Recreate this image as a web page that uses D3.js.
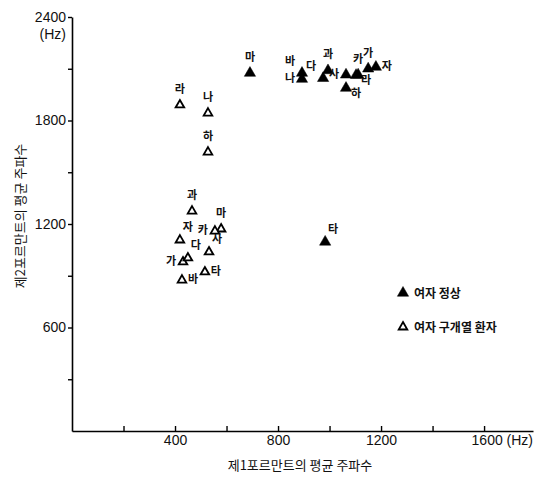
<!DOCTYPE html>
<html>
<head>
<meta charset="utf-8">
<script src="https://cdn.jsdelivr.net/npm/d3@7"></script>
<style>
  body { margin: 0; background: #fff; }
  svg { display: block; }
  .tick text { font-family: "Liberation Sans", "DejaVu Sans", sans-serif; }
</style>
</head>
<body>
<svg id="chart" width="551" height="477"></svg>
<script>
// normal women (filled triangles)
var normalLabels = ["마", "바", "나", "다", "과", "사", "라", "카", "하", "가", "자", "타"];
var normalF1 = [691, 893, 893, 975, 994, 1064, 1103, 1111, 1064, 1150, 1180, 983];
var normalF2 = [2075, 2075, 2040, 2045, 2090, 2065, 2063, 2065, 1988, 2100, 2110, 1096];
var normalLabelPos = ["t", "tl", "l", "tl", "t", "l", "br", "t", "br", "t", "r", "tr"];

// women with cleft palate (open triangles)
var cleftLabels = ["라", "나", "하", "과", "마", "카", "자", "가", "다", "사", "바", "타"];
var cleftF1 = [419, 528, 528, 466, 579, 555, 419, 431, 450, 532, 427, 516];
var cleftF2 = [1890, 1843, 1617, 1275, 1171, 1159, 1107, 980, 1003, 1038, 875, 922];
var cleftLabelPos = ["t", "t", "t", "t", "t", "l", "tr", "l", "tr", "tr", "r", "r"];

var xTicks = [200, 400, 600, 800, 1000, 1200, 1400, 1600];
var xTickLabels = { 400: "400", 800: "800", 1200: "1200", 1600: "1600 (Hz)" };
var yTicks = [300, 600, 900, 1200, 1500, 1800, 2100, 2400];
var yTickLabels = { 600: "600", 1200: "1200", 1800: "1800", 2400: "2400" };

var legendItems = ["여자 정상", "여자 구개열 환자"];

var korFont = '"Noto Sans CJK KR", "Noto Sans", sans-serif';

var svg = d3.select("#chart");

var x = d3.scaleLinear().domain([0, 1790]).range([72, 533]);
var y = d3.scaleLinear().domain([0, 2400]).range([431, 17]);

// x axis, ticks pointing up into the plot
var xAxis = svg.append("g")
    .attr("transform", "translate(0," + y(0) + ")")
    .call(d3.axisBottom(x)
        .tickValues(xTicks)
        .tickSizeInner(-5)
        .tickSizeOuter(0)
        .tickPadding(4)
        .tickFormat(function(d) { return xTickLabels[d] || ""; }));
xAxis.select(".domain").attr("stroke-width", 1.6);
xAxis.selectAll(".tick line").attr("stroke-width", 1.4);
xAxis.selectAll(".tick text").attr("font-size", 14).attr("fill", "#111");
// last label carries the unit, keep the number over its tick
xAxis.selectAll(".tick text")
    .filter(function(d) { return d == 1600; })
    .attr("text-anchor", "start")
    .attr("x", -13);

// y axis
var yAxis = svg.append("g")
    .attr("transform", "translate(" + x(0) + ",0)")
    .call(d3.axisLeft(y)
        .tickValues(yTicks)
        .tickSizeInner(4)
        .tickSizeOuter(0)
        .tickPadding(2)
        .tickFormat(function(d) { return yTickLabels[d] || ""; }));
yAxis.select(".domain").attr("stroke-width", 1.6);
yAxis.selectAll(".tick line").attr("stroke-width", 1.4);
yAxis.selectAll(".tick text").attr("font-size", 14).attr("fill", "#111");

// (Hz) unit under the top y label
svg.append("text")
    .attr("x", 66).attr("y", y(2400) + 22)
    .attr("text-anchor", "end")
    .attr("font-family", '"Liberation Sans", sans-serif')
    .attr("font-size", 14).attr("fill", "#111")
    .text("(Hz)");

// axis titles
svg.append("text")
    .attr("x", 300).attr("y", 470)
    .attr("text-anchor", "middle")
    .attr("font-family", korFont)
    .attr("font-size", 13).attr("fill", "#111")
    .text("제1포르만트의 평균 주파수");
svg.append("text")
    .attr("transform", "translate(25,216) rotate(-90)")
    .attr("text-anchor", "middle")
    .attr("font-family", korFont)
    .attr("font-size", 13).attr("fill", "#111")
    .text("제2포르만트의 평균 주파수");

var tri = d3.symbol().type(d3.symbolTriangle);

function labelOffset(p) {
    var o = { t: [0, -12], tl: [-12, -8], tr: [8, -9], l: [-12, 3], r: [11, 3], br: [10, 9] };
    return o[p];
}

function drawSeries(labels, f1, f2, pos, filled) {
    var data = labels.map(function(l, i) { return { label: l, f1: f1[i], f2: f2[i], pos: pos[i] }; });
    var g = svg.append("g");
    g.selectAll("path")
        .data(data)
        .enter()
        .append("path")
        .attr("d", tri.size(filled ? 55 : 32)())
        .attr("transform", function(d) { return "translate(" + x(d.f1) + "," + y(d.f2) + ")"; })
        .attr("fill", filled ? "#000" : "#fff")
        .attr("stroke", "#000")
        .attr("stroke-width", filled ? 0.5 : 1.8);
    g.selectAll("text")
        .data(data)
        .enter()
        .append("text")
        .attr("x", function(d) { return x(d.f1) + labelOffset(d.pos)[0]; })
        .attr("y", function(d) { return y(d.f2) + labelOffset(d.pos)[1]; })
        .attr("text-anchor", "middle")
        .attr("font-family", korFont)
        .attr("font-weight", "bold")
        .attr("font-size", 11)
        .attr("fill", "#111")
        .text(function(d) { return d.label; });
}

drawSeries(cleftLabels, cleftF1, cleftF2, cleftLabelPos, false);
drawSeries(normalLabels, normalF1, normalF2, normalLabelPos, true);

// legend
var legend = svg.append("g").attr("transform", "translate(403,293)");
legendItems.forEach(function(t, i) {
    var row = legend.append("g").attr("transform", "translate(0," + (i * 34) + ")");
    row.append("path")
        .attr("d", tri.size(i == 0 ? 55 : 32)())
        .attr("fill", i == 0 ? "#000" : "#fff")
        .attr("stroke", "#000")
        .attr("stroke-width", i == 0 ? 0.5 : 1.8);
    row.append("text")
        .attr("x", 11).attr("y", 5)
        .attr("font-family", korFont)
        .attr("font-weight", "bold")
        .attr("font-size", 12)
        .attr("fill", "#111")
        .text(t);
});
</script>
</body>
</html>
